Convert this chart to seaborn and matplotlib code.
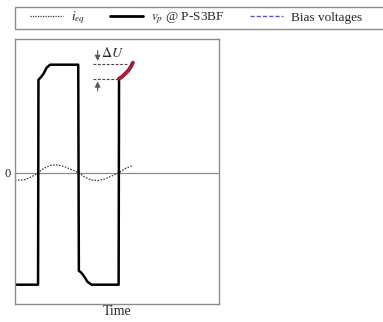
import matplotlib
matplotlib.use("Agg")
import matplotlib.pyplot as plt
import seaborn as sns
import pandas as pd
import numpy as np
from matplotlib.lines import Line2D
from matplotlib.patches import Rectangle

# square-wave terminal voltage v_p (time, voltage)
vp_t = [0.0, 1.13, 1.15, 1.25, 1.40, 1.55, 1.72, 3.10, 3.13, 3.25, 3.40, 3.55, 3.75, 5.08, 5.10]
vp_v = [-1.12, -1.12, 0.93, 0.95, 0.99, 1.05, 1.08, 1.08, -0.98, -1.00, -1.04, -1.09, -1.12, -1.12, 0.94]

# bias voltage rise after the last edge (red)
bias_t = [5.10, 5.25, 5.40, 5.55, 5.68, 5.78]
bias_v = [0.94, 0.96, 0.99, 1.02, 1.06, 1.10]

# equivalent current i_eq (dotted)
ieq_t = [0.0, 0.25, 0.5, 0.75, 1.0, 1.13, 1.4, 1.7, 2.0, 2.13, 2.4, 2.7, 3.0, 3.14,
         3.4, 3.7, 4.0, 4.12, 4.4, 4.7, 5.0, 5.10, 5.4, 5.78]
ieq_v = [-0.073, -0.075, -0.068, -0.047, -0.019, 0.0, 0.042, 0.071, 0.078, 0.076, 0.063, 0.037,
         0.01, 0.0, -0.042, -0.071, -0.078, -0.077, -0.063, -0.037, -0.008, 0.0, 0.042, 0.073]

# delta U markers
du_levels = [1.09, 0.94]
du_x0 = 3.82
du_x1 = [5.54, 5.10]

sns.set_theme(style="white")
plt.rcParams['font.family'] = ['Liberation Serif', 'DejaVu Serif']
plt.rcParams['mathtext.fontset'] = 'stix'

fig = plt.figure(figsize=(3.83, 3.22), dpi=100)
ax = fig.add_axes([15/383, 18/322, 204/383, 265/322])

grey = '#8c8c8c'
ax.axhline(0, color=grey, lw=0.9, zorder=1)

df_ieq = pd.DataFrame({'t': ieq_t, 'v': ieq_v})
sns.lineplot(data=df_ieq, x='t', y='v', ax=ax, color='#333333', lw=0.9,
             linestyle=(0, (1.2, 1.2)), sort=False, estimator=None)

df_vp = pd.DataFrame({'t': vp_t, 'v': vp_v})
sns.lineplot(data=df_vp, x='t', y='v', ax=ax, color='black', lw=1.8,
             sort=False, estimator=None)

df_bias = pd.DataFrame({'t': bias_t, 'v': bias_v})
sns.lineplot(data=df_bias, x='t', y='v', ax=ax, color='#a51c3c', lw=2.8,
             sort=False, estimator=None, solid_capstyle='round')

for lev, x1 in zip(du_levels, du_x1):
    ax.plot([du_x0, x1], [lev, lev], color='#444444', lw=0.8, linestyle=(0, (2.5, 1.5)))

ax.annotate('', xy=(4.05, du_levels[0]), xytext=(4.05, 1.25),
            arrowprops=dict(arrowstyle='-|>', color='#555555', lw=0.8, mutation_scale=8))
ax.annotate('', xy=(4.05, du_levels[1]), xytext=(4.05, 0.79),
            arrowprops=dict(arrowstyle='-|>', color='#555555', lw=0.8, mutation_scale=8))
ax.text(4.2, 1.20, r'$\Delta U$', fontsize=10, va='center', ha='left')

ax.set_xlim(0, 10)
ax.set_ylim(-1.313, 1.337)
ax.set_xticks([])
ax.set_yticks([0])
ax.set_yticklabels(['0'], fontsize=9)
ax.tick_params(axis='y', length=0, pad=3)
ax.set_xlabel('Time', fontsize=10, labelpad=1)
ax.set_ylabel('')
for s in ax.spines.values():
    s.set_color(grey)
    s.set_linewidth(1.0)

# legend box runs off the right edge of the figure
fig.patches.append(Rectangle((15/383, 1 - 29/322), 1.0, 22/322, transform=fig.transFigure,
                             fill=False, edgecolor=grey, lw=1.0))

handles = [
    Line2D([], [], color='#333333', lw=0.9, linestyle=(0, (1, 1))),
    Line2D([], [], color='black', lw=2.0),
    Line2D([], [], color='#5a5ab4', lw=1.0, linestyle=(0, (3, 1.5))),
]
labels = [r'$i_{eq}$', r'$v_p$ @ P-S3BF', 'Bias voltages']
leg = fig.legend(handles, labels, loc='center left', ncol=3,
                 bbox_to_anchor=(30/383, 1 - 18/322),
                 fontsize=9.5, handlelength=2.5, handletextpad=0.6,
                 columnspacing=1.9, frameon=False, borderpad=0, borderaxespad=0)

fig.savefig('out.png', dpi=100)
